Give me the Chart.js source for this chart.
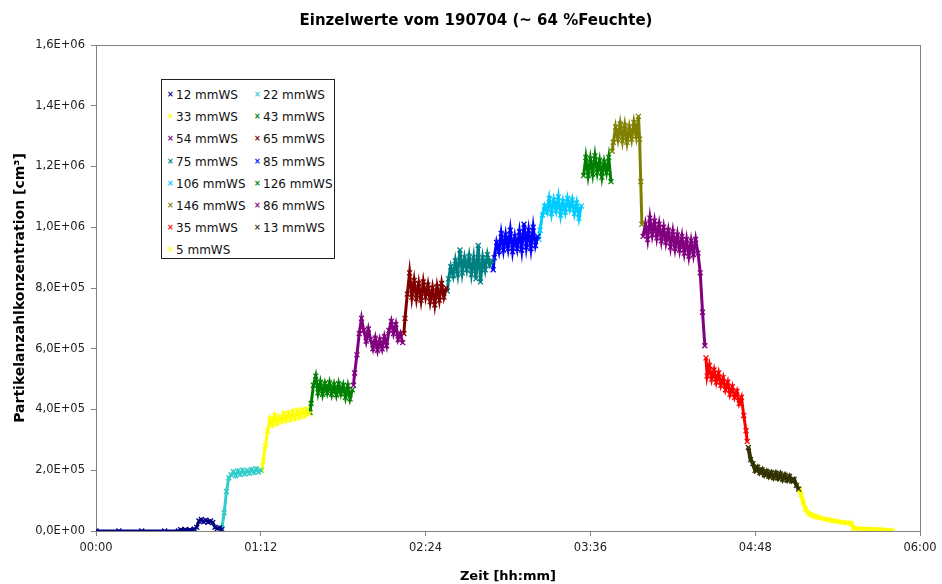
<!DOCTYPE html>
<html>
<head>
<meta charset="utf-8">
<script src="https://cdn.jsdelivr.net/npm/chart.js@4.4.1/dist/chart.umd.min.js"></script>
<style>
html,body{margin:0;padding:0;background:#fff;}
#wrap{position:relative;width:942px;height:584px;}
#title{position:absolute;left:0;top:10px;width:952px;text-align:center;font-family:'DejaVu Sans',Verdana,sans-serif;font-size:15px;font-weight:bold;line-height:20px;color:#000;}
#legend{position:absolute;left:161px;top:79px;width:172px;height:178px;border:1px solid #222;background:#fff;font-family:'DejaVu Sans',Verdana,sans-serif;font-size:12px;color:#111;}
.item{position:absolute;white-space:nowrap;height:14px;line-height:14px;}
.mk{position:absolute;left:0;top:0;font-size:8px;font-weight:bold;line-height:14px;}
.tx{position:absolute;left:9px;top:0;}
</style>
</head>
<body>
<div id="wrap"><canvas id="c" width="942" height="584"></canvas><div id="title"></div><div id="legend"></div></div>
<script>
// ---------------- data (time in minutes since start, particle count per cm3) ----------------
const chartTitle = 'Einzelwerte vom 190704 (~ 64 %Feuchte)';
const seriesLabels = ['12 mmWS','22 mmWS','33 mmWS','43 mmWS','54 mmWS','65 mmWS','75 mmWS','85 mmWS',
                      '106 mmWS','126 mmWS','146 mmWS','86 mmWS','35 mmWS','13 mmWS','5 mmWS'];

const t12 = [0,10,20,30,36,37,39,41,43,44,45,46,47,48,49,50,51,52,53,54,55];
const v12 = [0,0,0,0,0,4000,5000,4000,6000,12000,33000,38000,30000,36000,29000,33000,28000,12000,8000,11000,5000];

const t22 = [55,56,57,58,59,60,61,62,63,64,65,66,67,68,69,70,71,72];
const v22 = [10000,60000,130000,175000,185000,195000,182000,198000,186000,200000,188000,199000,190000,203000,192000,205000,194000,200000];

const t33 = [72.5,73,74,75,76,77,78,79,80,81,82,83,84,85,86,87,88,89,90,91,92,93];
const v33 = [200000,230000,280000,330000,370000,350000,380000,355000,375000,360000,385000,365000,388000,368000,392000,372000,395000,375000,398000,380000,400000,385000];

const t43 = [93.5,94,95,96,97,98,99,100,101,102,103,104,105,106,107,108,109,110,111,112];
const v43 = [390000,420000,480000,510000,455000,490000,450000,485000,455000,488000,450000,482000,448000,485000,452000,480000,440000,478000,435000,465000];

const t54 = [112.5,113,114,115,116,117,118,119,120,121,122,123,124,125,126,127,128,129,130,131,132,133,134];
const v54 = [480000,520000,580000,650000,700000,660000,625000,665000,630000,600000,635000,595000,630000,600000,640000,610000,660000,690000,650000,680000,630000,650000,620000];

const t65 = [134.5,135,136,137,138,139,140,141,142,143,144,145,146,147,148,149,150,151,152,153];
const v65 = [650000,700000,780000,850000,770000,825000,765000,815000,760000,820000,770000,810000,755000,800000,745000,805000,760000,815000,770000,800000];

const t75 = [153.5,154,155,156,157,158,159,160,161,162,163,164,165,166,167,168,169,170,171,172,173];
const v75 = [790000,830000,870000,840000,890000,845000,925000,850000,900000,860000,905000,845000,900000,830000,940000,820000,900000,860000,910000,875000,890000];

const t85 = [173.5,174,175,176,177,178,179,180,181,182,183,184,185,186,187,188,189,190,191,192,193];
const v85 = [860000,900000,950000,920000,980000,925000,975000,930000,990000,920000,970000,930000,985000,925000,1010000,935000,990000,930000,1000000,940000,970000];

const t106 = [193.5,194,195,196,197,198,199,200,201,202,203,204,205,206,207,208,209,210,211,212];
const v106 = [960000,990000,1040000,1070000,1050000,1095000,1045000,1090000,1055000,1100000,1040000,1085000,1050000,1095000,1060000,1090000,1045000,1080000,1030000,1070000];

const t126 = [213,214,215,216,217,218,219,220,221,222,223,224,225];
const v126 = [1170000,1230000,1170000,1225000,1175000,1235000,1180000,1220000,1165000,1215000,1180000,1230000,1150000];

const t146 = [225.5,226,227,228,229,230,231,232,233,234,235,236,237,237.5,238,238.5];
const v146 = [1250000,1280000,1330000,1290000,1340000,1285000,1335000,1280000,1330000,1290000,1345000,1300000,1365000,1290000,1150000,1010000];

const t86 = [239,240,241,242,243,244,245,246,247,248,249,250,251,252,253,254,255,256,257,258,259,260,261,262,263,264,265,266];
const v86 = [970000,1010000,960000,1030000,975000,1020000,965000,1010000,955000,1000000,950000,990000,935000,985000,930000,975000,925000,970000,915000,960000,905000,955000,910000,960000,915000,850000,720000,610000];

const t35 = [266.5,267,268,269,270,271,272,273,274,275,276,277,278,279,280,281,282,283,284,284.5];
const v35 = [570000,510000,545000,500000,530000,490000,520000,480000,505000,465000,490000,450000,475000,440000,460000,420000,440000,380000,330000,295000];

const t13 = [285,286,287,288,289,290,291,292,293,294,295,296,297,298,299,300,301,302,303,304,305,306,307];
const v13 = [275000,235000,222000,200000,210000,192000,202000,185000,196000,180000,192000,176000,190000,174000,188000,170000,184000,168000,180000,164000,170000,150000,138000];

const t5 = [307.5,308,309,310,311,312,313,314,315,316,318,320,322,324,326,328,330,331,333,336,339,342,345,347,348];
const v5 = [135000,120000,95000,72000,60000,55000,51000,49000,46000,44000,40000,37000,34000,31000,29000,27000,25000,9000,8000,7000,6000,5000,3000,1000,0];

const xTickLabels = ['00:00','01:12','02:24','03:36','04:48','06:00'];
const yTickLabels = ['0,0E+00','2,0E+05','4,0E+05','6,0E+05','8,0E+05','1,0E+06','1,2E+06','1,4E+06','1,6E+06'];

// ---------------- styling ----------------
const times  = [t12,t22,t33,t43,t54,t65,t75,t85,t106,t126,t146,t86,t35,t13,t5];
const values = [v12,v22,v33,v43,v54,v65,v75,v85,v106,v126,v146,v86,v35,v13,v5];
const colors = ['#000080','#33CCCC','#FFFF00','#008000','#800080','#800000','#008080','#0000FF',
                '#00CCFF','#008000','#808000','#800080','#FF0000','#333300','#FFFF00'];
const lineWidths = [3,3,3,3,3,3,3,3,3,3,3,3,3,4,4];

const datasets = seriesLabels.map((lab, i) => ({
  label: lab,
  data: times[i].map((t, j) => ({x: t, y: values[i][j]})),
  borderColor: colors[i],
  backgroundColor: colors[i],
  showLine: true,
  borderWidth: lineWidths[i],
  pointStyle: 'crossRot',
  pointRadius: 3.5,
  pointBorderWidth: 1.3,
  pointHoverRadius: 3.5,
  tension: 0
}));

const frame = {
  id: 'frame',
  beforeDatasetsDraw(chart) {
    const {ctx, chartArea: a} = chart;
    ctx.save();
    ctx.strokeStyle = '#808080';
    ctx.lineWidth = 1;
    ctx.strokeRect(Math.round(a.left) + 0.5, Math.round(a.top) + 0.5, Math.round(a.right - a.left), Math.round(a.bottom - a.top));
    ctx.restore();
  }
};

const FONT = "'DejaVu Sans', Verdana, sans-serif";
document.getElementById('title').textContent = chartTitle;

new Chart(document.getElementById('c'), {
  type: 'scatter',
  data: {datasets},
  plugins: [frame],
  options: {
    responsive: false,
    devicePixelRatio: 1,
    animation: false,
    layout: {padding: {left: 0, right: 22, top: 45, bottom: 0}},
    plugins: {
      legend: {display: false},
      tooltip: {enabled: false},
      title: {display: false}
    },
    scales: {
      x: {
        type: 'linear', min: 0, max: 360,
        afterFit(s) { s.height = 53; },
        ticks: {
          stepSize: 72, autoSkip: false, maxRotation: 0, padding: 5, color: '#222',
          font: {family: FONT, size: 11.5},
          callback: (v, i) => xTickLabels[i]
        },
        grid: {drawOnChartArea: false, drawTicks: true, tickLength: 5, color: '#808080'},
        border: {color: '#808080', width: 1},
        title: {
          display: true, text: 'Zeit [hh:mm]', color: '#000',
          font: {family: FONT, size: 13, weight: 'bold'},
          padding: {top: 0, bottom: 0}
        }
      },
      y: {
        type: 'linear', min: 0, max: 1600000,
        afterFit(s) { s.width = 96; },
        ticks: {
          stepSize: 200000, autoSkip: false, padding: 6, color: '#222',
          font: {family: FONT, size: 11.5},
          callback: (v, i) => yTickLabels[i]
        },
        grid: {drawOnChartArea: false, drawTicks: true, tickLength: 5, color: '#808080'},
        border: {color: '#808080', width: 1},
        title: {
          display: true, text: 'Partikelanzahlkonzentration [cm³]', color: '#000',
          font: {family: FONT, size: 14, weight: 'bold'},
          padding: {top: 12, bottom: 0}
        }
      }
    }
  }
});

// HTML legend built from the dataset labels / colours
const legendEl = document.getElementById('legend');
seriesLabels.forEach((lab, i) => {
  const col = i % 2, row = Math.floor(i / 2);
  const it = document.createElement('div');
  it.className = 'item';
  it.style.left = (col ? 92 : 5) + 'px';
  it.style.top = (8 + row * 22.2) + 'px';
  const mk = document.createElement('span');
  mk.className = 'mk'; mk.style.color = colors[i]; mk.textContent = '×';
  const tx = document.createElement('span');
  tx.className = 'tx'; tx.textContent = lab;
  it.appendChild(mk); it.appendChild(tx);
  legendEl.appendChild(it);
});
</script>
</body>
</html>
